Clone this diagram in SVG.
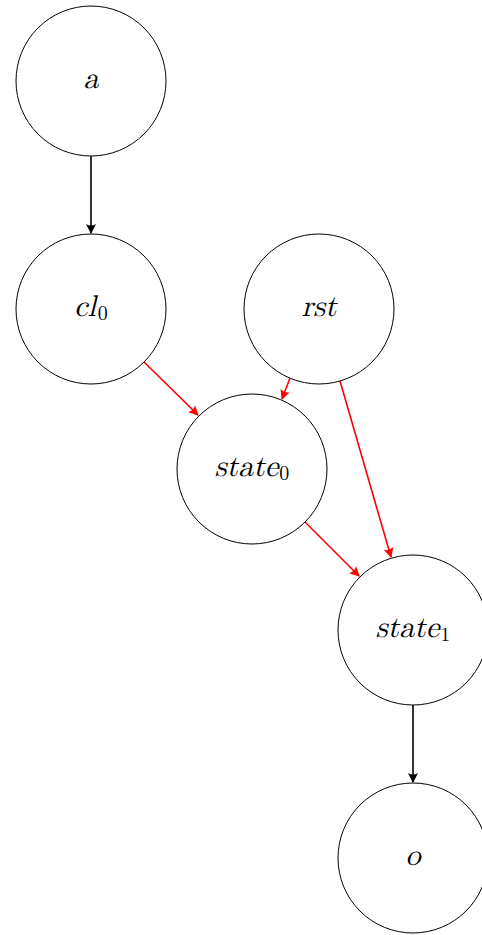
<svg xmlns="http://www.w3.org/2000/svg" width="482" height="935" viewBox="0 0 482 935">
<style>
.n{fill:#fff;stroke:#000;stroke-width:1}
.t{font-family:"Latin Modern Math","DejaVu Serif","Liberation Serif",serif;font-style:italic;font-size:30px;text-anchor:middle;dominant-baseline:central}
.s{font-style:normal;font-size:20px}
.k{stroke:#000;stroke-width:1.6;fill:none}
.r{stroke:#f00;stroke-width:1.6;fill:none}
</style>
<defs>
<marker id="ak" viewBox="0 0 10 10" refX="9" refY="5" markerWidth="10" markerHeight="10" markerUnits="userSpaceOnUse" orient="auto"><path d="M0,0 Q3,5 0,10 L10,5 Z" fill="#000"/></marker>
<marker id="ar" viewBox="0 0 10 10" refX="9" refY="5" markerWidth="10" markerHeight="10" markerUnits="userSpaceOnUse" orient="auto"><path d="M0,0 Q3,5 0,10 L10,5 Z" fill="#f00"/></marker>
</defs>
<g id="connectors">
<line class="k" x1="91" y1="156" x2="91" y2="233" marker-end="url(#ak)"/>
<line class="r" x1="144" y1="362" x2="198" y2="415" marker-end="url(#ar)"/>
<line class="r" x1="290" y1="378" x2="282" y2="399" marker-end="url(#ar)"/>
<line class="r" x1="340" y1="381" x2="391" y2="557" marker-end="url(#ar)"/>
<line class="r" x1="305" y1="522" x2="359" y2="576" marker-end="url(#ar)"/>
<line class="k" x1="413" y1="705" x2="413" y2="782" marker-end="url(#ak)"/>
</g>
<g id="a"><circle class="n" cx="91" cy="81" r="75"/><text class="t" x="91" y="79">a</text></g>
<g id="cl0"><circle class="n" cx="91" cy="309" r="75"/><text class="t" x="91" y="307">cl<tspan class="s" dx="2" dy="7">0</tspan></text></g>
<g id="rst"><circle class="n" cx="319" cy="309" r="75"/><text class="t" x="319" y="307">rst</text></g>
<g id="state0"><circle class="n" cx="252" cy="469" r="75"/><text class="t" x="252" y="467">state<tspan class="s" dx="1" dy="7">0</tspan></text></g>
<g id="state1"><circle class="n" cx="413" cy="630" r="75"/><text class="t" x="413" y="628">state<tspan class="s" dx="1" dy="7">1</tspan></text></g>
<g id="o"><circle class="n" cx="413" cy="858" r="75"/><text class="t" x="413" y="856">o</text></g>
</svg>
